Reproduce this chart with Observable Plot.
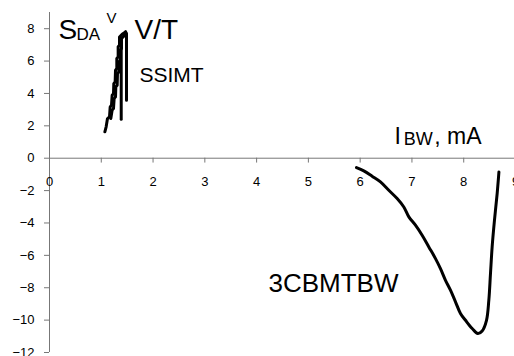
<!DOCTYPE html>
<html>
<head>
<meta charset="utf-8">
<script src="https://cdn.jsdelivr.net/npm/d3@7"></script>
<script src="https://cdn.jsdelivr.net/npm/@observablehq/plot@0.6"></script>
<style>
  html, body { margin: 0; padding: 0; background: #fff; }
  #chart svg { font-family: "Liberation Sans", Arial, sans-serif; }
</style>
</head>
<body>
<div id="chart"></div>
<script>
// ---- data ----
const xTicks = [0, 1, 2, 3, 4, 5, 6, 7, 8, 9];
const yTicks = [-12, -10, -8, -6, -4, -2, 0, 2, 4, 6, 8];

// SSIMT curve, drawn as strands (seg id)
const ssimtX = [
  1.069, 1.094, 1.120, 1.159, 1.172, 1.197, 1.210, 1.236, 1.242, 1.268, 1.275, 1.300, 1.300, 1.326, 1.326, 1.352, 1.352, 1.403, 1.468,
  1.455, 1.390, 1.390, 1.365, 1.365, 1.339, 1.339, 1.313, 1.307, 1.281, 1.275, 1.249, 1.236, 1.210, 1.184,
  1.385, 1.385,
  1.470, 1.487, 1.487
];
const ssimtY = [
  1.63, 1.94, 2.45, 2.55, 3.17, 3.27, 3.89, 3.99, 4.61, 4.72, 5.44, 5.54, 6.16, 6.26, 6.88, 6.98, 7.49, 7.66, 7.80,
  7.60, 7.39, 6.77, 6.67, 6.05, 5.95, 5.33, 5.23, 4.51, 4.41, 3.79, 3.69, 3.07, 2.97, 2.45,
  7.40, 2.41,
  7.80, 7.70, 3.58
];
const ssimtSeg = [
  0, 0, 0, 0, 0, 0, 0, 0, 0, 0, 0, 0, 0, 0, 0, 0, 0, 0, 0,
  1, 1, 1, 1, 1, 1, 1, 1, 1, 1, 1, 1, 1, 1, 1,
  2, 2,
  3, 3, 3
];

// 3CBMTBW curve
const bwX = [5.929, 6.070, 6.231, 6.392, 6.553, 6.714, 6.843, 6.940, 7.068, 7.197, 7.326, 7.455, 7.551, 7.648, 7.744, 7.841, 7.937, 8.034, 8.163, 8.272, 8.356, 8.440, 8.485, 8.517, 8.549, 8.594, 8.646, 8.680];
const bwY = [-0.58, -0.78, -1.11, -1.46, -1.98, -2.49, -3.01, -3.62, -4.14, -4.76, -5.48, -6.20, -6.82, -7.54, -8.15, -8.87, -9.59, -10.01, -10.52, -10.83, -10.67, -10.01, -8.77, -7.12, -5.48, -3.83, -2.18, -0.85];

const ssimt = ssimtX.map((x, i) => ({x, y: ssimtY[i], seg: ssimtSeg[i]}));
const bw = bwX.map((x, i) => ({x, y: bwY[i]}));

// annotations (anchored in data units)
const notes = [
  {x: 0.174, y: 7.35, text: "S", size: 28},
  {x: 0.521, y: 7.29, text: "DA", size: 17},
  {x: 1.101, y: 8.34, text: "V", size: 15},
  {x: 1.642, y: 7.35, text: "V/T", size: 28},
  {x: 1.738, y: 4.69, text: "SSIMT", size: 21},
  {x: 6.663, y: 0.865, text: "I", size: 23},
  {x: 6.840, y: 0.80, text: "BW", size: 18},
  {x: 7.430, y: 0.865, text: ", mA", size: 23},
  {x: 4.229, y: -8.28, text: "3CBMTBW", size: 26}
];

const axisColor = "#777";

const chart = Plot.plot({
  width: 514,
  height: 356,
  marginLeft: 49,
  marginRight: 0,
  marginTop: 12,
  marginBottom: 4,
  style: {fontFamily: "Liberation Sans, Arial, sans-serif", fontSize: "13px", color: "#000", background: "#fff"},
  x: {domain: [0, 9], range: [49, 515], axis: null},
  y: {domain: [-12, 9], range: [352, 12], axis: null},
  marks: [
    Plot.axisY(yTicks, {tickSize: 5, tickPadding: 10, stroke: axisColor, fill: "#000", fontSize: 13, label: null}),
    Plot.ruleX([0], {stroke: axisColor}),
    Plot.ruleY([0], {stroke: axisColor}),
    Plot.ruleX(xTicks, {x: d => d, y1: 0, y2: -0.3, stroke: axisColor}),
    Plot.text(xTicks, {x: d => d, y: 0, dy: 24, text: d => String(d), fontSize: 13, fill: "#000"}),
    Plot.line(ssimt, {x: "x", y: "y", z: "seg", stroke: "#000", strokeWidth: 3, strokeLinejoin: "round", strokeLinecap: "round"}),
    Plot.line(bw, {x: "x", y: "y", stroke: "#000", strokeWidth: 3, curve: "catmull-rom", strokeLinejoin: "round", strokeLinecap: "round"}),
    Plot.text(notes, {x: "x", y: "y", text: "text", fontSize: "size", textAnchor: "start", lineAnchor: "bottom", fill: "#000"})
  ]
});
document.getElementById("chart").appendChild(chart);
</script>
</body>
</html>
